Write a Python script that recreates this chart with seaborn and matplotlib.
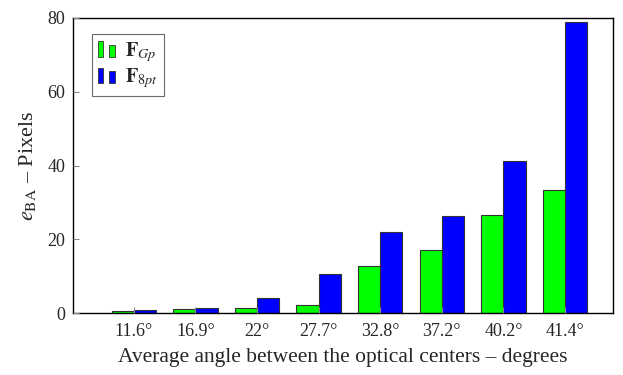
import pandas as pd
import matplotlib
matplotlib.use("Agg")
import matplotlib.pyplot as plt
import seaborn as sns
from matplotlib.legend_handler import HandlerBase
from matplotlib.patches import Rectangle

angles = ["11.6°", "16.9°", "22°", "27.7°", "32.8°", "37.2°", "40.2°", "41.4°"]
err_gp = [0.6, 1.0, 1.3, 2.2, 12.7, 17.2, 26.6, 33.5]
err_8pt = [0.8, 1.5, 4.0, 10.7, 22.0, 26.3, 41.3, 78.8]
methods = [r"$\mathbf{F}_{Gp}$", r"$\mathbf{F}_{8pt}$"]

df = pd.DataFrame({
    "angle": angles * 2,
    "error": err_gp + err_8pt,
    "method": [methods[0]] * len(angles) + [methods[1]] * len(angles),
})


# legend image like pgfplots ybar: two small bars
class TwoBars(HandlerBase):
    def create_artists(self, legend, orig, xd, yd, w, h, fontsize, trans):
        fc = orig.get_facecolor()
        bw = w * 0.32
        r1 = Rectangle((-xd, -yd), bw, h, facecolor=fc, edgecolor="#333333",
                       linewidth=0.6, transform=trans)
        r2 = Rectangle((-xd + w - bw, -yd), bw, h * 0.78, facecolor=fc,
                       edgecolor="#333333", linewidth=0.6, transform=trans)
        return [r1, r2]


sns.set_style("white")
plt.rcParams["font.family"] = ["Liberation Serif", "DejaVu Serif"]
plt.rcParams["mathtext.fontset"] = "stix"

fig, ax = plt.subplots(figsize=(6.23, 3.75), dpi=100)
sns.barplot(data=df, x="angle", y="error", hue="method", order=angles,
            palette=["#00ff00", "#0000ff"], width=0.72, edgecolor="#333333",
            linewidth=0.8, saturation=1, ax=ax)

ax.set_xlim(-0.99, 7.78)
ax.set_ylim(0, 80)
ax.set_yticks([0, 20, 40, 60, 80])
ax.set_axisbelow(False)
ax.tick_params(direction="in", length=4, width=0.8, color="#888888",
               labelsize=13, top=False, right=False, bottom=True, left=True)
ax.tick_params(axis="x", pad=7)
ax.tick_params(axis="y", pad=5.5)
for s in ax.spines.values():
    s.set_color("black")
    s.set_linewidth(1.0)

ax.set_xlabel("Average angle between the optical centers – degrees",
              fontsize=15.5, labelpad=6)
ax.set_ylabel(r"$e_{\rm BA}$ – Pixels", fontsize=16, labelpad=7)

handles, labels = ax.get_legend_handles_labels()
leg = ax.legend(handles, labels, loc="upper left", bbox_to_anchor=(0.035, 0.946),
                borderaxespad=0, fontsize=14.5, frameon=True, fancybox=False,
                edgecolor="#444444", handlelength=0.85, handleheight=0.8,
                borderpad=0.3, labelspacing=0.12, handletextpad=0.5,
                handler_map={h: TwoBars() for h in handles})
leg.get_frame().set_linewidth(0.8)

fig.subplots_adjust(left=0.117, right=0.984, top=0.952, bottom=0.165)
fig.savefig("out.png", dpi=100)
